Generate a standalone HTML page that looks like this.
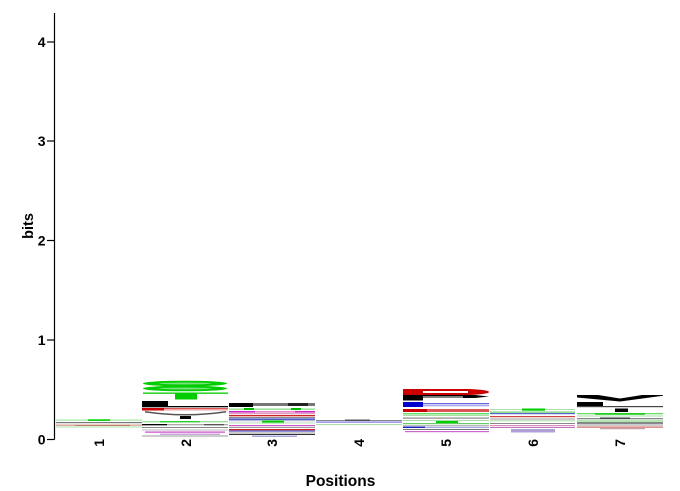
<!DOCTYPE html>
<html><head><meta charset="utf-8"><style>
html,body{margin:0;padding:0;background:#fff;}
svg{display:block;font-family:"Liberation Sans",Arial,sans-serif;font-weight:bold;}
</style></head><body>
<svg width="680" height="491" viewBox="0 0 680 491" xmlns="http://www.w3.org/2000/svg">
<rect width="680" height="491" fill="#fff"/>
<!-- y axis -->
<line x1="54.5" y1="13" x2="54.5" y2="439.5" stroke="#000" stroke-width="1.2"/>
<g stroke="#000" stroke-width="1.2">
<line x1="47" y1="439.5" x2="54.5" y2="439.5"/>
<line x1="47" y1="340" x2="54.5" y2="340"/>
<line x1="47" y1="240.5" x2="54.5" y2="240.5"/>
<line x1="47" y1="141" x2="54.5" y2="141"/>
<line x1="47" y1="42" x2="54.5" y2="42"/>
</g>
<g font-size="14" text-anchor="end" fill="#000">
<text x="45.5" y="444.5">0</text>
<text x="45.5" y="345">1</text>
<text x="45.5" y="245.5">2</text>
<text x="45.5" y="146">3</text>
<text x="45.5" y="47">4</text>
</g>
<text transform="translate(33,226) rotate(-90)" font-size="14.5" text-anchor="middle">bits</text>
<text x="340.5" y="486" font-size="15.5" text-anchor="middle">Positions</text>
<g font-size="14" text-anchor="end">
<text transform="translate(104,439) rotate(-90)">1</text>
<text transform="translate(191,439) rotate(-90)">2</text>
<text transform="translate(277,439) rotate(-90)">3</text>
<text transform="translate(364,439) rotate(-90)">4</text>
<text transform="translate(451,439) rotate(-90)">5</text>
<text transform="translate(538,439) rotate(-90)">6</text>
<text transform="translate(625,439) rotate(-90)">7</text>
</g>

<!-- Column 1: 56-142 -->
<g>
<rect x="56" y="419.5" width="86" height="1.2" fill="#9fe59f"/>
<rect x="88" y="419.3" width="22" height="1.6" fill="#00cc00"/>
<rect x="56" y="422" width="86" height="1.2" fill="#777"/>
<rect x="56" y="424.5" width="86" height="1.3" fill="#d9a090"/>
<rect x="75" y="425" width="55" height="1" fill="#c08060"/>
<rect x="56" y="426.5" width="86" height="1" fill="#a8e0a8"/>
</g>

<!-- Column 2: 142-228 -->
<g>
<ellipse cx="185" cy="383.5" rx="42" ry="2.8" fill="#00cc00"/>
<ellipse cx="185" cy="383.5" rx="26" ry="1" fill="#7be07b"/>
<ellipse cx="185" cy="388.5" rx="42" ry="2.8" fill="#00cc00"/>
<ellipse cx="185" cy="388.5" rx="26" ry="1" fill="#7be07b"/>
<rect x="143" y="392.5" width="85" height="1.3" fill="#00cc00"/>
<rect x="175" y="393.5" width="22" height="6" fill="#00cc00"/>
<rect x="142" y="401" width="26" height="6" fill="#000"/>
<rect x="142" y="406" width="86" height="1.3" fill="#000"/>
<rect x="142" y="408" width="22" height="2.5" fill="#cc0000"/>
<rect x="164" y="408" width="64" height="1.2" fill="#dd5555"/>
<rect x="164" y="409.3" width="64" height="1.2" fill="#f0a0a0"/>
<path d="M145 411 Q185 417 226 411 L226 412.5 Q185 418.5 145 412.5Z" fill="#555"/>
<rect x="180" y="416" width="11" height="3" fill="#000"/>
<rect x="142" y="421" width="86" height="1.4" fill="#9fe09f"/>
<rect x="160" y="421" width="40" height="1.4" fill="#30d030"/>
<rect x="142" y="424" width="86" height="1.3" fill="#aaa"/>
<rect x="142" y="424" width="25" height="1.3" fill="#000"/>
<rect x="204" y="424" width="20" height="1.3" fill="#555"/>
<rect x="142" y="427" width="86" height="1" fill="#888"/>
<rect x="142" y="429.5" width="86" height="1" fill="#b8b8b8"/>
<rect x="145" y="431.5" width="80" height="1.2" fill="#cc44cc"/>
<rect x="160" y="433.5" width="60" height="1.5" fill="#c8a8d8"/>
<rect x="142" y="435.5" width="86" height="1" fill="#999"/>
</g>

<!-- Column 3: 229-315 -->
<g>
<rect x="229" y="403" width="24" height="4" fill="#000"/>
<rect x="253" y="403" width="62" height="3" fill="#777"/>
<rect x="288" y="403" width="20" height="3" fill="#222"/>
<rect x="229" y="408.5" width="86" height="1.3" fill="#88dd88"/>
<rect x="244" y="408" width="10" height="2" fill="#00bb00"/>
<rect x="291" y="408" width="10" height="2" fill="#00bb00"/>
<rect x="229" y="411" width="86" height="1.5" fill="#cc22cc"/>
<rect x="255" y="411" width="40" height="1.5" fill="#e888c8"/>
<rect x="229" y="412.8" width="86" height="1.5" fill="#e0a0c0"/>
<rect x="229" y="415" width="86" height="1.3" fill="#cc2222"/>
<rect x="229" y="417" width="86" height="1" fill="#888"/>
<rect x="229" y="418.5" width="86" height="1.3" fill="#2233bb"/>
<rect x="229" y="420.3" width="86" height="0.9" fill="#9999cc"/>
<rect x="262" y="420.5" width="22" height="3" fill="#00cc00"/>
<rect x="229" y="422.5" width="86" height="0.9" fill="#aaddaa"/>
<rect x="229" y="425" width="86" height="1.2" fill="#cc55cc"/>
<rect x="229" y="427" width="86" height="1" fill="#999"/>
<rect x="229" y="429" width="86" height="1.2" fill="#cc2222"/>
<rect x="229" y="430.5" width="86" height="1" fill="#2222aa"/>
<rect x="229" y="432.5" width="86" height="1" fill="#999"/>
<rect x="229" y="434" width="86" height="1" fill="#333"/>
<rect x="252" y="435.5" width="45" height="1.5" fill="#a8a8e0"/>
</g>

<!-- Column 4: 316-402 -->
<g>
<rect x="316" y="420" width="86" height="1" fill="#888"/>
<rect x="345" y="419.5" width="25" height="1.5" fill="#555"/>
<rect x="316" y="421.5" width="86" height="1.2" fill="#7777dd"/>
<rect x="316" y="424" width="86" height="1" fill="#a8e0a8"/>
</g>

<!-- Column 5: 403-489 -->
<g>
<path d="M403 389 L470 389 Q489 390 489 392 Q489 394 470 395 L403 395Z" fill="#cc0000"/>
<rect x="423" y="391" width="45" height="2" fill="#fff"/>
<path d="M403 395 L475 395 L489 396.5 L475 398 L423 398 L403 400Z" fill="#000"/>
<rect x="403" y="395" width="20" height="5.5" fill="#000"/>
<rect x="423" y="396.5" width="40" height="1" fill="#fff"/>
<rect x="403" y="402" width="20" height="5" fill="#0000cc"/>
<rect x="423" y="403" width="66" height="1.3" fill="#6666dd"/>
<rect x="423" y="405" width="66" height="1.3" fill="#aaaaee"/>
<rect x="403" y="409" width="86" height="3" fill="#dd5555"/>
<rect x="403" y="409" width="24" height="3" fill="#cc0000"/>
<rect x="403" y="413" width="86" height="1.5" fill="#66dd66"/>
<rect x="403" y="415" width="86" height="1" fill="#aaddaa"/>
<rect x="403" y="417.5" width="86" height="1.2" fill="#888"/>
<rect x="436" y="420" width="22" height="3" fill="#00cc00"/>
<rect x="403" y="420" width="86" height="1" fill="#aaddaa"/>
<rect x="403" y="423" width="86" height="1.2" fill="#66cc66"/>
<rect x="403" y="425" width="86" height="1" fill="#bbb"/>
<rect x="403" y="426.5" width="86" height="1.5" fill="#aaaadd"/>
<rect x="403" y="426.5" width="22" height="1.5" fill="#2222bb"/>
<rect x="403" y="429" width="86" height="1" fill="#777"/>
<rect x="405" y="431" width="84" height="1.2" fill="#cc66cc"/>
</g>

<!-- Column 6: 490-575 -->
<g>
<rect x="490" y="409" width="85" height="1" fill="#aaddaa"/>
<rect x="522" y="408.5" width="23" height="2.2" fill="#00cc00"/>
<rect x="490" y="411.5" width="85" height="1.2" fill="#66cc66"/>
<rect x="490" y="413" width="85" height="1.2" fill="#5566cc"/>
<rect x="490" y="416" width="85" height="1.2" fill="#cc4444"/>
<rect x="490" y="418.5" width="85" height="1" fill="#999"/>
<rect x="490" y="420.3" width="85" height="1" fill="#aaddaa"/>
<rect x="490" y="423" width="85" height="1" fill="#888"/>
<rect x="490" y="425" width="85" height="1.2" fill="#dd88bb"/>
<rect x="490" y="427" width="85" height="1" fill="#bb77bb"/>
<rect x="511" y="429" width="44" height="3.5" fill="#b0a0d8"/>
</g>

<!-- Column 7: 577-663 -->
<g>
<path d="M577 395 L598 395 L620 398.5 L642 395 L663 395 L663 395.8 L620 401.5 L577 397.5Z" fill="#000"/>
<rect x="577" y="402" width="26" height="5" fill="#000"/>
<rect x="577" y="406" width="86" height="1.2" fill="#444"/>
<rect x="615" y="408.5" width="13" height="3.5" fill="#000"/>
<rect x="577" y="413" width="86" height="1.3" fill="#66dd66"/>
<rect x="595" y="413" width="50" height="1.8" fill="#22cc22"/>
<rect x="577" y="415.5" width="86" height="1" fill="#aaddaa"/>
<rect x="577" y="418" width="86" height="1.3" fill="#888"/>
<rect x="600" y="417.5" width="30" height="1.5" fill="#444"/>
<rect x="577" y="420.5" width="86" height="1" fill="#66cc66"/>
<rect x="577" y="422.5" width="86" height="1" fill="#111"/>
<rect x="577" y="424.5" width="86" height="1" fill="#999"/>
<rect x="577" y="426.5" width="86" height="1.2" fill="#cc6666"/>
<rect x="600" y="428.2" width="45" height="1" fill="#bb8888"/>
</g>
</svg>
</body></html>
